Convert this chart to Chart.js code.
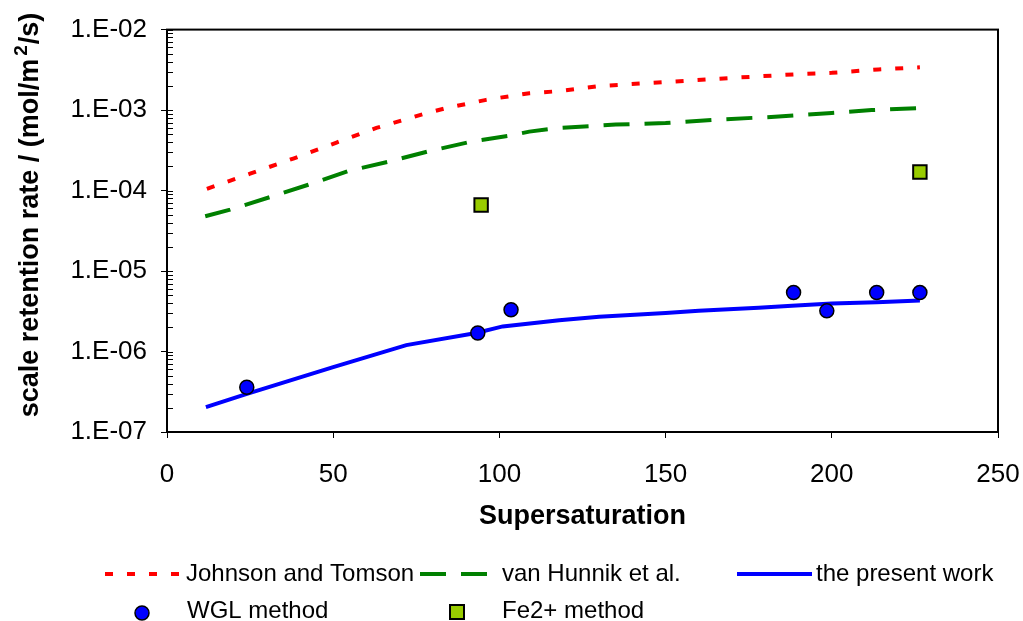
<!DOCTYPE html>
<html>
<head>
<meta charset="utf-8">
<script src="https://cdn.jsdelivr.net/npm/chart.js@4.4.1/dist/chart.umd.min.js"></script>
<style>
  html, body { margin: 0; padding: 0; background: #fff; }
  #wrap { width: 1023px; height: 621px; position: relative; }
</style>
</head>
<body>
<div id="wrap"><canvas id="rateChart"></canvas></div>
<script>
// Johnson and Tomson correlation
const jtX = [12, 25, 38, 51, 63, 77, 84, 96, 109, 118, 130, 150, 169, 190, 200, 214, 226.5];
const jtY = [1.05e-4, 1.62e-4, 2.5e-4, 3.95e-4, 6.0e-4, 8.9e-4, 1.06e-3, 1.34e-3, 1.62e-3, 1.72e-3,
             1.99e-3, 2.23e-3, 2.5e-3, 2.8e-3, 2.9e-3, 3.2e-3, 3.4e-3];

// van Hunnik et al. correlation
const vhX = [11.5, 19, 31, 42.5, 55, 67, 79, 92, 103, 109, 118, 135, 150, 165, 184, 200, 212, 226.5];
const vhY = [4.8e-5, 5.8e-5, 8.3e-5, 1.18e-4, 1.77e-4, 2.3e-4, 3.1e-4, 4.1e-4, 4.8e-4, 5.4e-4,
             6.0e-4, 6.6e-4, 6.9e-4, 7.6e-4, 8.3e-4, 9.2e-4, 1.0e-3, 1.06e-3];

// the present work (model)
const pwX = [11.7, 23.8, 50, 72, 93, 101, 118, 130, 150, 160, 178, 188, 200, 213.5, 226.5];
const pwY = [2.04e-7, 2.95e-7, 6.4e-7, 1.2e-6, 1.7e-6, 2.05e-6, 2.45e-6, 2.7e-6, 3.0e-6, 3.2e-6,
             3.5e-6, 3.7e-6, 3.95e-6, 4.1e-6, 4.3e-6];

// measurements
const wglX = [24, 93.5, 103.5, 188.5, 198.5, 213.5, 226.5];
const wglY = [3.6e-7, 1.7e-6, 3.3e-6, 5.4e-6, 3.2e-6, 5.4e-6, 5.4e-6];
const feX = [94.5, 226.5];
const feY = [6.6e-5, 1.7e-4];

const yTicks = [1e-7, 1e-6, 1e-5, 1e-4, 1e-3, 1e-2];
const xLabel = 'Supersaturation';

const FONT = "'Liberation Sans', Arial, sans-serif";

const pts = (xs, ys) => xs.map((x, i) => ({ x: x, y: ys[i] }));

// box round the plot, inner tick marks, y title with superscript, legend
const decorations = {
  id: 'decorations',
  afterDraw(chart) {
    const { ctx, chartArea: a, scales: { y } } = chart;
    ctx.save();

    ctx.strokeStyle = '#000';
    ctx.lineWidth = 1;
    for (let e = -7; e <= -2; e++) {
      for (let m = 1; m <= 9; m++) {
        const v = m * Math.pow(10, e);
        if (v > 1e-2) break;
        const py = Math.round(y.getPixelForValue(v)) + 0.5;
        ctx.beginPath();
        ctx.moveTo(a.left, py);
        ctx.lineTo(a.left + 6, py);
        ctx.stroke();
      }
    }
    ctx.lineWidth = 2;
    ctx.strokeRect(a.left, a.top, a.right - a.left, a.bottom - a.top);

    // y axis title
    ctx.save();
    ctx.translate(31, 215);
    ctx.rotate(-Math.PI / 2);
    ctx.fillStyle = '#000';
    ctx.textBaseline = 'middle';
    ctx.textAlign = 'left';
    const main = 'scale retention rate / (mol/m';
    const tail = '/s)';
    ctx.font = 'bold 27px ' + FONT;
    const w1 = ctx.measureText(main).width;
    const w3 = ctx.measureText(tail).width;
    ctx.font = 'bold 19px ' + FONT;
    const w2 = ctx.measureText('2').width + 4;
    let x0 = -(w1 + w2 + w3) / 2;
    ctx.font = 'bold 27px ' + FONT;
    ctx.fillText(main, x0, 0);
    ctx.font = 'bold 19px ' + FONT;
    ctx.fillText('2', x0 + w1 + 3, -9);
    ctx.font = 'bold 27px ' + FONT;
    ctx.fillText(tail, x0 + w1 + w2, 0);
    ctx.restore();

    // legend
    const slots = [
      { x: 105, tx: 186, y: 574 },
      { x: 420, tx: 502, y: 574 },
      { x: 737, tx: 816, y: 574 },
      { x: 105, tx: 187, y: 611 },
      { x: 420, tx: 502, y: 611 }
    ];
    chart.data.datasets.forEach((ds, i) => {
      const s = slots[i];
      ctx.save();
      if (ds.showLine) {
        ctx.strokeStyle = ds.borderColor;
        ctx.lineWidth = ds.borderWidth;
        ctx.setLineDash(ds.borderDash || []);
        ctx.beginPath();
        ctx.moveTo(s.x, s.y);
        ctx.lineTo(s.x + 75, s.y);
        ctx.stroke();
      } else {
        const cx = s.x + 37;
        ctx.fillStyle = ds.backgroundColor;
        ctx.strokeStyle = '#000';
        ctx.lineWidth = ds.borderWidth;
        ctx.beginPath();
        if (ds.pointStyle === 'rect') {
          ctx.rect(cx - 7, s.y - 6, 14, 14);
        } else {
          ctx.arc(cx, s.y + 2, 7, 0, Math.PI * 2);
        }
        ctx.fill();
        ctx.stroke();
      }
      ctx.restore();
      ctx.fillStyle = '#000';
      ctx.font = '24px ' + FONT;
      ctx.textBaseline = 'middle';
      ctx.textAlign = 'left';
      ctx.fillText(ds.label, s.tx, s.y);
    });

    ctx.restore();
  }
};

const lineDs = (label, xs, ys, color, dash) => ({
  label: label,
  data: pts(xs, ys),
  showLine: true,
  borderColor: color,
  borderWidth: 4,
  borderDash: dash,
  borderCapStyle: 'butt',
  pointRadius: 0,
  pointHoverRadius: 0,
  tension: 0,
  order: 1
});

new Chart(document.getElementById('rateChart').getContext('2d'), {
  type: 'scatter',
  data: {
    datasets: [
      lineDs('Johnson and Tomson', jtX, jtY, '#FF0000', [8, 14]),
      lineDs('van Hunnik et al.', vhX, vhY, '#008000', [26, 15]),
      lineDs('the present work', pwX, pwY, '#0000FF', []),
      {
        label: 'WGL method',
        data: pts(wglX, wglY),
        showLine: false,
        pointStyle: 'circle',
        pointRadius: 7,
        backgroundColor: '#0000FF',
        borderColor: '#000',
        borderWidth: 1.5,
        order: 0
      },
      {
        label: 'Fe2+ method',
        data: pts(feX, feY),
        showLine: false,
        pointStyle: 'rect',
        pointRadius: 9.5,
        backgroundColor: '#99CC00',
        borderColor: '#000',
        borderWidth: 2,
        order: 0
      }
    ]
  },
  options: {
    responsive: true,
    maintainAspectRatio: false,
    animation: false,
    layout: { padding: { left: 0, top: 28, right: 25, bottom: 88 } },
    plugins: {
      legend: { display: false },
      tooltip: { enabled: false }
    },
    scales: {
      x: {
        type: 'linear',
        min: 0,
        max: 250,
        afterFit: s => { s.height = 101; s.paddingRight = 0; },
        ticks: {
          stepSize: 50,
          color: '#000',
          padding: 21,
          font: { family: FONT, size: 26 }
        },
        grid: { drawOnChartArea: false, tickLength: 6, tickColor: '#000' },
        border: { color: '#000', width: 2 },
        title: {
          display: true,
          text: xLabel,
          color: '#000',
          padding: 0,
          font: { family: FONT, size: 27, weight: 'bold' }
        }
      },
      y: {
        type: 'logarithmic',
        min: 1e-7,
        max: 1e-2,
        afterFit: s => { s.width = 167; },
        afterBuildTicks: s => { s.ticks = yTicks.map(v => ({ value: v })); },
        ticks: {
          color: '#000',
          padding: 14,
          font: { family: FONT, size: 26 },
          callback: v => '1.E-' + String(-Math.round(Math.log10(v))).padStart(2, '0')
        },
        grid: { drawOnChartArea: false, tickLength: 6, tickColor: '#000' },
        border: { color: '#000', width: 2 }
      }
    }
  },
  plugins: [decorations]
});
</script>
</body>
</html>
